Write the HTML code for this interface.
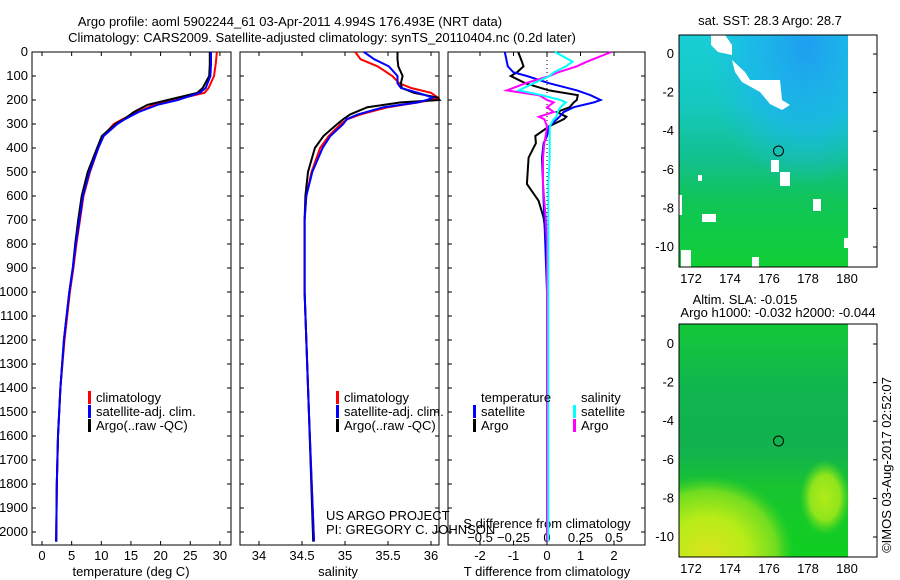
<!DOCTYPE html>
<html><head><meta charset="utf-8"><style>
body{margin:0;background:#fff;}
svg{display:block;font-family:"Liberation Sans",sans-serif;font-size:13px;}
</style></head><body>
<svg id="chart" width="900" height="580" viewBox="0 0 900 580">
<defs>
<linearGradient id="sstg" x1="0" y1="0" x2="0" y2="1">
<stop offset="0" stop-color="#19cfd6"/><stop offset="0.3" stop-color="#14c8bf"/><stop offset="0.55" stop-color="#12c08a"/><stop offset="0.7" stop-color="#10c45a"/><stop offset="1" stop-color="#10d034"/></linearGradient>
<radialGradient id="sstblue" cx="0.75" cy="0.05" r="0.6"><stop offset="0" stop-color="#1e9ef0"/><stop offset="0.6" stop-color="#1cb6ee" stop-opacity="0.7"/><stop offset="1" stop-color="#1cc0e0" stop-opacity="0"/></radialGradient>
<linearGradient id="slag" x1="0" y1="0" x2="0" y2="1"><stop offset="0" stop-color="#14c838"/><stop offset="0.3" stop-color="#10b450"/><stop offset="0.55" stop-color="#12b24e"/><stop offset="0.7" stop-color="#18c430"/><stop offset="1" stop-color="#10d020"/></linearGradient>
<radialGradient id="slay" cx="0.25" cy="0.95" r="0.75"><stop offset="0" stop-color="#d8e41c"/><stop offset="0.45" stop-color="#b8ec18"/><stop offset="0.8" stop-color="#70dc20"/><stop offset="1" stop-color="#40d028" stop-opacity="0"/></radialGradient>
<radialGradient id="slay2" cx="0.5" cy="0.5" r="0.5"><stop offset="0" stop-color="#b0ec18"/><stop offset="0.6" stop-color="#90e41c"/><stop offset="1" stop-color="#60dc20" stop-opacity="0"/></radialGradient>
</defs>
<g text-anchor="middle" font-size="13">
<text x="290" y="26">Argo profile: aoml 5902244_61 03-Apr-2011 4.994S 176.493E (NRT data)</text>
<text x="322" y="42">Climatology: CARS2009. Satellite-adjusted climatology: synTS_20110404.nc (0.2d later)</text>
</g>
<g id="plots"></g>

<g>
<text x="770" y="25" text-anchor="middle">sat. SST: 28.3 Argo: 28.7</text>
<rect x="679" y="35" width="169" height="232" fill="url(#sstg)"/>
<rect x="679" y="35" width="169" height="232" fill="url(#sstblue)"/>
<g fill="#fff">
<polygon points="711,35 725,35 732,45 732,55 718,52 711,45"/><polygon points="732,60 745,72 750,80 780,80 782,100 790,105 782,110 770,104 760,92 742,82 735,72"/>
<rect x="771" y="160" width="8" height="12"/><rect x="780" y="172" width="10" height="14"/><rect x="813" y="199" width="8" height="12"/>
<rect x="679" y="195" width="3" height="20"/><rect x="702" y="214" width="14" height="8"/><rect x="698" y="175" width="4" height="6"/>
<rect x="681" y="250" width="10" height="17"/><rect x="752" y="257" width="7" height="10"/><rect x="844" y="238" width="4" height="10"/>
</g>
<rect x="679" y="35" width="198" height="232" fill="none" stroke="#000"/>
<circle cx="778.5" cy="151" r="5" fill="none" stroke="#000"/>
</g>
<g>
<text x="745" y="304" text-anchor="middle">Altim. SLA: -0.015</text>
<text x="778" y="317" text-anchor="middle">Argo h1000: -0.032 h2000: -0.044</text>
<rect x="679" y="324" width="169" height="233" fill="url(#slag)"/>
<rect x="679" y="455" width="115" height="102" fill="url(#slay)"/>
<rect x="800" y="460" width="50" height="75" fill="url(#slay2)"/>
<rect x="679" y="324" width="198" height="233" fill="none" stroke="#000"/>
<circle cx="778.5" cy="441" r="5" fill="none" stroke="#000"/>
<text transform="translate(891,465) rotate(-90)" text-anchor="middle">©IMOS 03-Aug-2017 02:52:07</text>
</g>
</svg>
<script>
// depth levels (dbar)
const tDepth = [0,50,100,150,170,200,220,250,280,300,350,400,500,600,700,800,900,1000,1200,1400,1600,1800,2040];
const tempArgo = [28.3,28.3,28.2,27.1,26.2,21.2,17.8,15.5,13.8,12.4,10.1,9.3,7.7,6.7,6.1,5.6,5.2,4.6,3.7,3.1,2.7,2.5,2.4];
const tempClim = [29.5,29.3,29.0,28.1,27.4,22.2,18.8,16.1,13.6,12.1,10.3,9.5,8.1,7.0,6.4,5.8,5.3,4.7,3.8,3.1,2.7,2.5,2.4];
const tempSat  = [28.5,28.5,28.4,27.6,26.6,22.9,19.5,16.3,14.0,12.7,10.4,9.5,8.0,6.9,6.3,5.7,5.2,4.6,3.7,3.1,2.7,2.5,2.4];
const sDepth = [0,30,60,100,130,150,170,190,200,210,230,260,280,300,350,400,500,600,700,1000,1500,2040];
const salArgo = [35.61,35.61,35.62,35.67,35.65,35.66,35.80,36.08,36.10,35.65,35.26,35.06,34.98,34.91,34.75,34.65,34.57,34.54,34.53,34.53,34.58,34.63];
const salClim = [35.12,35.18,35.38,35.55,35.63,35.77,36.00,36.08,36.00,35.85,35.50,35.18,35.03,34.95,34.81,34.71,34.61,34.55,34.53,34.53,34.58,34.64];
const salSat  = [35.22,35.34,35.51,35.61,35.61,35.65,35.85,36.02,35.95,35.85,35.45,35.15,35.02,34.98,34.83,34.74,34.62,34.55,34.53,34.53,34.58,34.64];
const dDepth = [0,40,60,85,100,130,160,180,200,210,230,250,270,280,310,350,380,440,550,620,690,800,1000,2040];
const dTSat  = [-1.26,-1.2,-1.17,-1.0,-0.6,0.06,0.9,1.3,1.6,1.4,0.8,0.5,0.37,0.3,0.06,0,-0.1,-0.15,-0.12,-0.1,-0.08,-0.05,0,0];
const dTArgo = [-0.86,-0.75,-0.7,-0.9,-1.08,-0.65,0.06,0.92,0.89,0.8,0.68,0.3,0.58,0.5,0.06,-0.35,-0.33,-0.55,-0.6,-0.25,-0.1,0,0,0];
const dSSat  = [0.06,0.19,0.14,0.05,0.02,-0.1,-0.21,-0.04,0.1,0.14,0.1,0.08,0.07,0.05,0.02,0.02,0.02,0.02,0.01,0.01,0.01,0.01,0.01,0.01];
const dSArgo = [0.48,0.3,0.22,0.08,0.02,-0.16,-0.3,-0.06,0,0.05,0.0,0.05,-0.06,-0.02,0,-0.01,-0.02,-0.03,-0.03,-0.02,-0.01,0,0,0];
const depthTicks = [0,100,200,300,400,500,600,700,800,900,1000,1100,1200,1300,1400,1500,1600,1700,1800,1900,2000];
const tempTicks = [0,5,10,15,20,25,30];
const salTicks = [34,34.5,35,35.5,36];
const dTTicks = [-2,-1,0,1,2];
const dSTicks = ['-0.5','-0.25','0','0.25','0.5'];

const NS='http://www.w3.org/2000/svg';
const root=document.getElementById('plots');
function mk(tag,attrs,parent){const e=document.createElementNS(NS,tag);for(const k in attrs)e.setAttribute(k,attrs[k]);(parent||root).appendChild(e);return e;}
const Y=d=>52+d*0.24;
const xT=v=>42+v*5.93;
const xS=v=>345+(v-35)*86;
const xD=v=>547+v*33.5;
const xDS=v=>547+v*134;
const yTop=52,yBot=545;

function frame(x0,x1,name){
  const g=mk('g',{});
  
  
  const r=mk('rect',{x:x0,y:yTop,width:x1-x0,height:yBot-yTop,fill:'none',stroke:'#000'},g);
  
  
  depthTicks.forEach(d=>{mk('line',{x1:x0,x2:x0+4,y1:Y(d),y2:Y(d),stroke:'#000'},g);mk('line',{x1:x1,x2:x1-4,y1:Y(d),y2:Y(d),stroke:'#000'},g);});
  return g;
}
function line(g,xs,ds,fx,color,name){
  const pts=xs.map((v,i)=>fx(v).toFixed(1)+','+Y(ds[i]).toFixed(1)).join(' ');
  const p=mk('polyline',{points:pts,fill:'none',stroke:color,'stroke-width':2},g);
  
  
}
function txt(g,x,y,s,anchor,name){const t=mk('text',{x:x,y:y,'text-anchor':anchor||'start'},g);t.textContent=s;return t;}
function legend(g,x,y,color,label,name){
  const r=mk('rect',{x:x,y:y-11,width:3,height:13,fill:color},g);
  
  
  txt(g,x+8,y,label,'start',name);
}

const ya=mk('g',{});


depthTicks.forEach(d=>txt(ya,28,Y(d)+4,String(d),'end','depth-tick-label'));

// Panel 1
const p1=frame(32,231,'temperature-panel');
tempTicks.forEach(v=>{mk('line',{x1:xT(v),x2:xT(v),y1:yBot,y2:yBot-4,stroke:'#000'},p1);mk('line',{x1:xT(v),x2:xT(v),y1:yTop,y2:yTop+4,stroke:'#000'},p1);txt(p1,xT(v),560,String(v),'middle','temperature-tick-label');});
txt(p1,131,576,'temperature (deg C)','middle','temperature-axis-title');
line(p1,tempClim,tDepth,xT,'#f00','temperature-climatology-line');
line(p1,tempArgo,tDepth,xT,'#000','temperature-argo-line');
line(p1,tempSat,tDepth,xT,'#00f','temperature-satellite-line');
legend(p1,88,402,'#f00','climatology','legend-climatology');
legend(p1,88,416,'#00f','satellite-adj. clim.','legend-satellite');
legend(p1,88,430,'#000','Argo(..raw -QC)','legend-argo');

// Panel 2
const p2=frame(240,439,'salinity-panel');
salTicks.forEach(v=>{mk('line',{x1:xS(v),x2:xS(v),y1:yBot,y2:yBot-4,stroke:'#000'},p2);mk('line',{x1:xS(v),x2:xS(v),y1:yTop,y2:yTop+4,stroke:'#000'},p2);txt(p2,xS(v),560,String(v),'middle','salinity-tick-label');});
txt(p2,338,576,'salinity','middle','salinity-axis-title');
line(p2,salClim,sDepth,xS,'#f00','salinity-climatology-line');
line(p2,salArgo,sDepth,xS,'#000','salinity-argo-line');
line(p2,salSat,sDepth,xS,'#00f','salinity-satellite-line');
legend(p2,336,402,'#f00','climatology','legend-climatology-2');
legend(p2,336,416,'#00f','satellite-adj. clim.','legend-satellite-2');
legend(p2,336,430,'#000','Argo(..raw -QC)','legend-argo-2');
txt(p2,326,520,'US ARGO PROJECT','start','project-credit');
txt(p2,326,534,'PI: GREGORY C. JOHNSON','start','pi-credit');

// Panel 3
const p3=frame(448,645,'difference-panel');
mk('line',{x1:547,x2:547,y1:yTop,y2:yBot,stroke:'#000','stroke-dasharray':'1,3'},p3);
dTTicks.forEach(v=>{mk('line',{x1:xD(v),x2:xD(v),y1:yBot,y2:yBot-4,stroke:'#000'},p3);mk('line',{x1:xD(v),x2:xD(v),y1:yTop,y2:yTop+4,stroke:'#000'},p3);txt(p3,xD(v),560,String(v),'middle','t-diff-tick-label');});
dSTicks.forEach(s=>txt(p3,xDS(parseFloat(s)),542,s.replace('-','\u2212'),'middle','s-diff-tick-label'));
txt(p3,547,528,'S difference from climatology','middle','s-diff-axis-title');
txt(p3,547,576,'T difference from climatology','middle','t-diff-axis-title');
line(p3,dTArgo,dDepth,xD,'#000','t-diff-argo-line');
line(p3,dTSat,dDepth,xD,'#00f','t-diff-satellite-line');
line(p3,dSArgo,dDepth,xDS,'#f0f','s-diff-argo-line');
line(p3,dSSat,dDepth,xDS,'#0ff','s-diff-satellite-line');
txt(p3,481,402,'temperature','start','legend-temperature-header');
legend(p3,473,416,'#00f','satellite','legend-t-satellite');
legend(p3,473,430,'#000','Argo','legend-t-argo');
txt(p3,581,402,'salinity','start','legend-salinity-header');
legend(p3,573,416,'#0ff','satellite','legend-s-satellite');
legend(p3,573,430,'#f0f','Argo','legend-s-argo');

// map axes
const lonTicks=[172,174,176,178,180];
const latTicks=[0,-2,-4,-6,-8,-10];
function mapAxes(lat0y,bottomY,name){
  const g=mk('g',{});
  
  
  lonTicks.forEach(l=>{const x=691+(l-172)*19.5;mk('line',{x1:x,x2:x,y1:bottomY,y2:bottomY-4,stroke:'#000'},g);mk('line',{x1:x,x2:x,y1:bottomY-232,y2:bottomY-228,stroke:'#000'},g);txt(g,x,bottomY+16,String(l),'middle','lon-tick-label');});
  latTicks.forEach(l=>{const y=lat0y-l*19.3;mk('line',{x1:679,x2:683,y1:y,y2:y,stroke:'#000'},g);mk('line',{x1:877,x2:873,y1:y,y2:y,stroke:'#000'},g);txt(g,674,y+4,String(l),'end','lat-tick-label');});
}
mapAxes(54,267,'sst-map-axes');
mapAxes(344,557,'sla-map-axes');
</script>
</body></html>
